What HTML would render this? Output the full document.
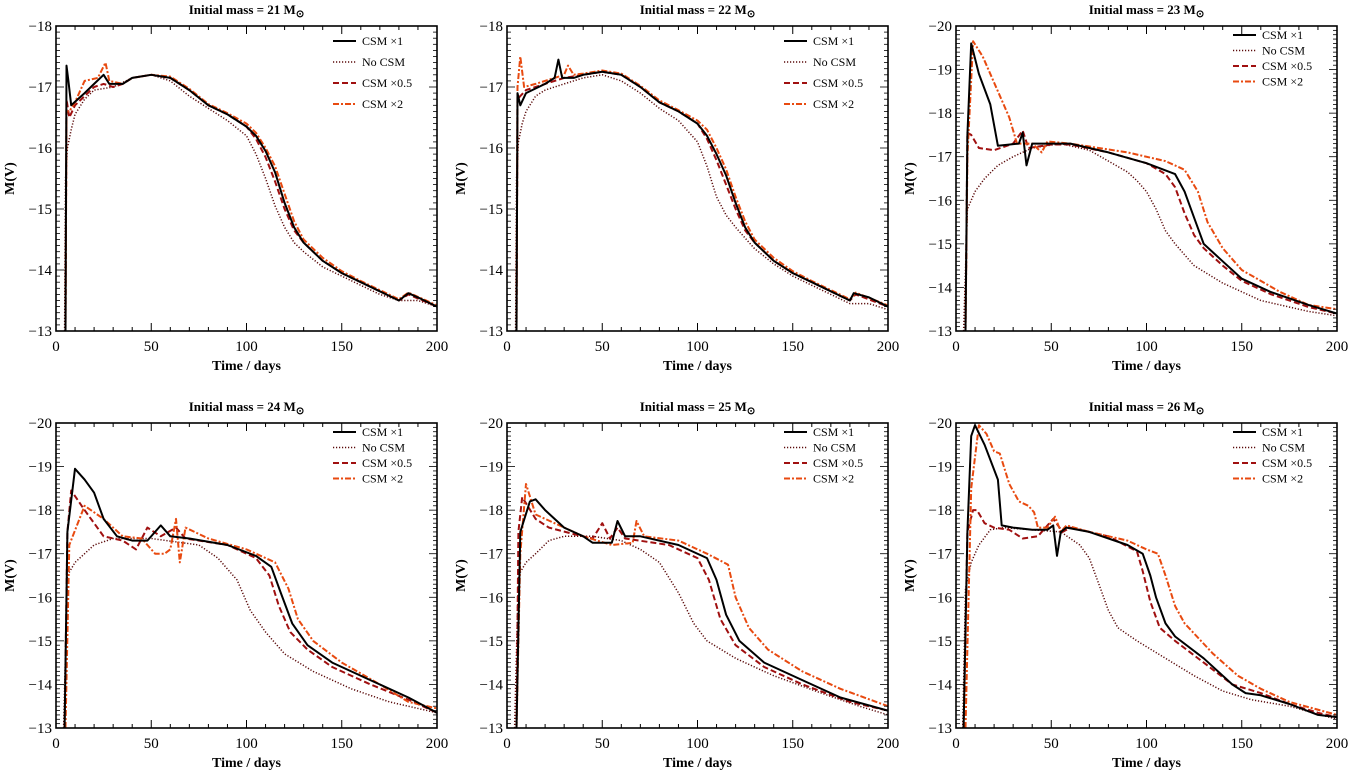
<!DOCTYPE html>
<html><head><meta charset="utf-8">
<style>
html,body{margin:0;padding:0;background:#fff;}
svg{display:block;font-family:"Liberation Serif",serif;}
</style></head>
<body>
<svg id="chart" width="1350" height="776" viewBox="0 0 1350 776" xmlns="http://www.w3.org/2000/svg"></svg>
<script>
// ---- data: [time(days), M(V)] per series per panel ----
const masses = [21,22,23,24,25,26];
const yMins = [-18,-18,-20,-20,-20,-20];
const xTicks = [0,50,100,150,200];
const seriesNames = ["CSM \u00d71","No CSM","CSM \u00d70.5","CSM \u00d72"];

const p21_csm1 = [[5,-13],[5.5,-17.35],[6.5,-17.1],[8,-16.7],[15,-16.9],[20,-17.05],[25,-17.2],[28,-17.05],[35,-17.05],[40,-17.15],[50,-17.2],[60,-17.15],[70,-16.95],[80,-16.7],[90,-16.55],[100,-16.35],[105,-16.2],[110,-15.95],[115,-15.6],[120,-15.1],[125,-14.7],[130,-14.45],[140,-14.15],[150,-13.95],[160,-13.8],[170,-13.65],[180,-13.5],[185,-13.62],[190,-13.55],[200,-13.4]];
const p21_nocsm = [[4.5,-13],[5,-15.5],[6,-16.0],[8,-16.3],[10,-16.55],[15,-16.8],[20,-16.95],[30,-17.0],[40,-17.15],[50,-17.2],[60,-17.1],[70,-16.85],[80,-16.65],[90,-16.45],[100,-16.2],[105,-15.9],[110,-15.5],[115,-15.05],[120,-14.7],[125,-14.45],[130,-14.3],[140,-14.05],[150,-13.9],[160,-13.75],[170,-13.6],[180,-13.5],[190,-13.5],[200,-13.4]];
const p21_csm05 = [[5,-13],[5.5,-16.8],[7,-16.5],[10,-16.7],[20,-17.0],[25,-17.05],[30,-17.0],[35,-17.05],[40,-17.15],[50,-17.2],[60,-17.15],[70,-16.95],[80,-16.7],[90,-16.55],[100,-16.35],[105,-16.15],[110,-15.85],[115,-15.45],[120,-15.0],[125,-14.65],[130,-14.45],[140,-14.15],[150,-13.95],[160,-13.8],[170,-13.65],[180,-13.5],[185,-13.6],[200,-13.4]];
const p21_csm2 = [[5,-13],[5.5,-16.6],[7,-16.6],[10,-16.75],[15,-17.1],[22,-17.15],[26,-17.4],[28,-17.1],[35,-17.05],[40,-17.15],[50,-17.2],[60,-17.17],[70,-16.97],[80,-16.72],[90,-16.57],[100,-16.4],[105,-16.25],[110,-16.0],[115,-15.7],[120,-15.25],[125,-14.8],[130,-14.5],[140,-14.2],[150,-13.98],[160,-13.82],[170,-13.67],[180,-13.52],[185,-13.63],[200,-13.42]];

const p22_csm1 = [[5,-13],[5.5,-16.9],[7,-16.7],[10,-16.9],[20,-17.05],[25,-17.15],[27,-17.45],[29,-17.15],[35,-17.15],[40,-17.2],[50,-17.25],[60,-17.2],[70,-17.0],[80,-16.75],[90,-16.6],[100,-16.4],[105,-16.2],[110,-15.9],[115,-15.55],[120,-15.1],[125,-14.7],[130,-14.45],[140,-14.15],[150,-13.95],[160,-13.8],[170,-13.65],[180,-13.5],[182,-13.62],[190,-13.55],[200,-13.4]];
const p22_nocsm = [[4.5,-13],[5,-15.5],[6,-16.1],[8,-16.4],[10,-16.6],[15,-16.85],[20,-16.95],[30,-17.05],[40,-17.15],[50,-17.2],[60,-17.1],[70,-16.9],[80,-16.65],[90,-16.45],[100,-16.1],[105,-15.7],[110,-15.2],[115,-14.9],[120,-14.7],[130,-14.35],[140,-14.1],[150,-13.9],[160,-13.75],[170,-13.6],[180,-13.45],[190,-13.45],[200,-13.35]];
const p22_csm05 = [[5,-13],[5.5,-16.8],[7,-16.85],[10,-16.95],[20,-17.05],[30,-17.15],[40,-17.2],[50,-17.25],[60,-17.2],[70,-17.0],[80,-16.75],[90,-16.6],[100,-16.4],[105,-16.15],[110,-15.8],[115,-15.4],[120,-15.0],[125,-14.65],[130,-14.45],[140,-14.15],[150,-13.95],[160,-13.8],[170,-13.65],[180,-13.5],[183,-13.6],[200,-13.4]];
const p22_csm2 = [[5,-13],[5.5,-17.0],[7,-17.5],[9,-17.0],[15,-17.05],[25,-17.15],[30,-17.2],[32,-17.35],[35,-17.2],[40,-17.22],[50,-17.27],[60,-17.22],[70,-17.02],[80,-16.78],[90,-16.62],[100,-16.45],[105,-16.3],[110,-16.0],[115,-15.65],[120,-15.2],[125,-14.8],[130,-14.5],[140,-14.2],[150,-13.98],[160,-13.82],[170,-13.67],[180,-13.52],[183,-13.63],[200,-13.42]];

const p23_csm1 = [[5,-13],[6,-17.5],[8,-19.6],[12,-18.9],[18,-18.2],[22,-17.25],[33,-17.3],[35,-17.55],[37,-16.8],[40,-17.3],[50,-17.3],[60,-17.3],[80,-17.1],[100,-16.85],[115,-16.6],[120,-16.2],[125,-15.6],[130,-15.0],[140,-14.6],[150,-14.2],[165,-13.9],[185,-13.6],[200,-13.4]];
const p23_nocsm = [[4,-13],[6,-15.8],[10,-16.2],[15,-16.5],[22,-16.8],[30,-17.0],[40,-17.2],[55,-17.3],[70,-17.15],[80,-16.9],[90,-16.65],[95,-16.45],[100,-16.2],[105,-15.8],[110,-15.3],[115,-15.0],[125,-14.5],[140,-14.1],[160,-13.7],[185,-13.45],[200,-13.35]];
const p23_csm05 = [[5,-13],[6,-17.55],[8,-17.5],[12,-17.2],[20,-17.15],[30,-17.3],[35,-17.6],[38,-17.2],[50,-17.28],[60,-17.28],[80,-17.1],[100,-16.85],[110,-16.6],[115,-16.3],[120,-15.7],[125,-15.2],[130,-14.9],[140,-14.5],[150,-14.15],[165,-13.85],[185,-13.55],[200,-13.4]];
const p23_csm2 = [[5,-13],[6,-17.0],[9,-19.65],[14,-19.3],[20,-18.7],[25,-18.2],[28,-17.9],[32,-17.3],[40,-17.3],[45,-17.1],[48,-17.35],[60,-17.3],[90,-17.1],[110,-16.9],[120,-16.7],[127,-16.2],[132,-15.5],[140,-14.9],[150,-14.4],[170,-13.9],[185,-13.6],[200,-13.5]];

const p24_csm1 = [[4.5,-13],[6,-17.5],[10,-18.95],[15,-18.7],[20,-18.4],[25,-17.8],[32,-17.4],[40,-17.3],[48,-17.3],[55,-17.65],[60,-17.4],[70,-17.35],[90,-17.2],[105,-16.95],[113,-16.7],[118,-16.1],[124,-15.4],[132,-14.9],[145,-14.5],[165,-14.1],[185,-13.7],[200,-13.35]];
const p24_nocsm = [[4,-13],[6,-16.5],[10,-16.8],[15,-17.0],[20,-17.2],[30,-17.35],[50,-17.35],[75,-17.2],[85,-16.9],[95,-16.4],[102,-15.7],[110,-15.2],[120,-14.7],[135,-14.3],[155,-13.9],[175,-13.6],[200,-13.35]];
const p24_csm05 = [[4.5,-13],[6,-17.5],[8,-18.45],[15,-18.0],[25,-17.4],[35,-17.3],[42,-17.1],[48,-17.6],[55,-17.4],[63,-17.6],[68,-17.35],[90,-17.2],[105,-16.9],[112,-16.5],[117,-15.8],[123,-15.2],[132,-14.8],[145,-14.4],[165,-14.0],[185,-13.65],[200,-13.35]];
const p24_csm2 = [[5,-13],[7,-17.2],[15,-18.1],[25,-17.8],[35,-17.4],[45,-17.35],[52,-17.0],[57,-17.0],[60,-17.1],[63,-17.8],[65,-16.8],[68,-17.6],[80,-17.35],[100,-17.1],[115,-16.8],[122,-16.2],[127,-15.5],[135,-15.0],[150,-14.5],[170,-14.0],[185,-13.6],[200,-13.45]];

const p25_csm1 = [[5,-13],[7,-17.5],[12,-18.2],[15,-18.25],[20,-18.0],[30,-17.6],[40,-17.4],[45,-17.25],[55,-17.25],[58,-17.75],[62,-17.4],[70,-17.4],[90,-17.2],[105,-16.9],[110,-16.4],[115,-15.6],[122,-15.0],[135,-14.5],[155,-14.1],[175,-13.7],[200,-13.4]];
const p25_nocsm = [[4,-13],[6,-16.5],[10,-16.8],[15,-17.0],[22,-17.3],[30,-17.4],[45,-17.4],[60,-17.3],[70,-17.1],[80,-16.8],[90,-16.1],[98,-15.4],[105,-15.0],[120,-14.6],[140,-14.2],[165,-13.8],[185,-13.5],[200,-13.3]];
const p25_csm05 = [[5,-13],[6,-17.5],[8,-18.3],[15,-17.8],[22,-17.6],[35,-17.45],[45,-17.35],[50,-17.7],[54,-17.35],[58,-17.6],[62,-17.35],[85,-17.2],[100,-16.9],[106,-16.4],[112,-15.5],[120,-14.9],[135,-14.4],[155,-14.0],[180,-13.6],[200,-13.4]];
const p25_csm2 = [[5,-13],[7,-17.0],[10,-18.6],[15,-17.9],[25,-17.7],[40,-17.4],[55,-17.2],[66,-17.25],[68,-17.75],[72,-17.4],[90,-17.3],[105,-17.0],[116,-16.75],[120,-16.0],[127,-15.3],[137,-14.8],[155,-14.3],[175,-13.9],[200,-13.5]];

const p26_csm1 = [[4,-13],[6,-17.5],[8,-19.7],[10,-19.95],[15,-19.5],[22,-18.7],[24,-17.65],[30,-17.6],[40,-17.55],[48,-17.55],[51,-17.65],[53,-16.95],[55,-17.5],[58,-17.6],[70,-17.5],[90,-17.2],[98,-17.0],[102,-16.5],[105,-16.0],[110,-15.4],[115,-15.1],[130,-14.6],[145,-14.0],[152,-13.8],[160,-13.75],[175,-13.55],[190,-13.3],[200,-13.25]];
const p26_nocsm = [[3.5,-13],[5,-16.2],[8,-16.8],[12,-17.2],[18,-17.55],[25,-17.6],[40,-17.55],[55,-17.5],[65,-17.2],[70,-16.9],[75,-16.3],[80,-15.7],[85,-15.3],[95,-15.0],[110,-14.6],[125,-14.2],[140,-13.85],[155,-13.65],[175,-13.5],[200,-13.2]];
const p26_csm05 = [[4,-13],[6,-17.5],[9,-18.0],[11,-18.0],[15,-17.7],[20,-17.6],[28,-17.55],[35,-17.35],[43,-17.4],[47,-17.6],[51,-17.8],[56,-17.5],[60,-17.6],[80,-17.4],[95,-17.05],[98,-16.6],[102,-15.9],[107,-15.3],[115,-15.0],[130,-14.5],[145,-14.0],[160,-13.8],[175,-13.55],[190,-13.35],[200,-13.25]];
const p26_csm2 = [[5,-13],[8,-18.5],[12,-19.95],[16,-19.75],[20,-19.35],[23,-19.3],[28,-18.6],[33,-18.2],[38,-18.1],[41,-17.95],[43,-17.6],[48,-17.6],[52,-17.85],[55,-17.5],[58,-17.65],[70,-17.5],[90,-17.3],[100,-17.1],[106,-17.0],[110,-16.5],[115,-15.8],[120,-15.4],[135,-14.7],[148,-14.2],[160,-13.9],[175,-13.6],[200,-13.3]];

const panelSeries = [
  [p21_csm1,p21_nocsm,p21_csm05,p21_csm2],
  [p22_csm1,p22_nocsm,p22_csm05,p22_csm2],
  [p23_csm1,p23_nocsm,p23_csm05,p23_csm2],
  [p24_csm1,p24_nocsm,p24_csm05,p24_csm2],
  [p25_csm1,p25_nocsm,p25_csm05,p25_csm2],
  [p26_csm1,p26_nocsm,p26_csm05,p26_csm2]
];

// ---- styles / layout ----
const styles = [
  {c:"#000",w:2,d:""},
  {c:"#5a0a0a",w:1.5,d:"1.2,1.8"},
  {c:"#a01010",w:2,d:"6,3"},
  {c:"#e84a10",w:2,d:"6,2,2,2"}
];
const colX = [56,507,956], rowY = [26,423];
const PW = 381, PH = 305;
const NS = "http://www.w3.org/2000/svg";
const svg = document.getElementById('chart');
function mk(tag, attrs, parent){
  const e = document.createElementNS(NS, tag);
  for (const k in attrs) e.setAttribute(k, attrs[k]);
  (parent||svg).appendChild(e);
  return e;
}

masses.forEach((m, i) => {
  const x0 = colX[i%3], y0 = rowY[Math.floor(i/3)];
  const yMin = yMins[i];
  const sx = t => x0 + t/200*PW;
  const sy = v => y0 + (v - yMin)/(-13 - yMin)*PH;
  const g = mk('g', {});
  
  

  // title
  const title = mk('text', {x: x0+PW/2, y: y0-12, 'text-anchor':'middle', 'font-size':13, 'font-weight':'bold'}, g);
  
  
  title.textContent = 'Initial mass = ' + m + ' M';
  const sub = mk('tspan', {'font-size':10, dy:3}, title);
  sub.textContent = '\u2299';

  // clip
  const cid = 'clip'+i;
  const cp = mk('clipPath', {id:cid}, g);
  mk('rect', {x:x0, y:y0, width:PW, height:PH}, cp);

  // series
  const sg = mk('g', {'clip-path':'url(#'+cid+')'}, g);
  [1,2,3,0].forEach(s => {
    const data = panelSeries[i][s];
    const st = styles[s];
    const pts = data.map(p => sx(p[0]).toFixed(1)+','+sy(p[1]).toFixed(1)).join(' ');
    const pl = mk('polyline', {points:pts, fill:'none', stroke:st.c, 'stroke-width':st.w, 'stroke-dasharray':st.d, 'stroke-linejoin':'round'}, sg);
    
    
  });

  // frame
  mk('rect', {x:x0, y:y0, width:PW, height:PH, fill:'none', stroke:'#000', 'stroke-width':1.6}, g);

  // x ticks
  for (let t=0; t<=200; t+=10) {
    const L = (t%50===0) ? 8 : 4;
    mk('line', {x1:sx(t), x2:sx(t), y1:y0+PH, y2:y0+PH-L, stroke:'#000', 'stroke-width':1}, g);
    mk('line', {x1:sx(t), x2:sx(t), y1:y0, y2:y0+L, stroke:'#000', 'stroke-width':1}, g);
  }
  xTicks.forEach(t => {
    const tl = mk('text', {x:sx(t), y:y0+PH+20, 'text-anchor':'middle', 'font-size':15}, g);
    
    
    tl.textContent = t;
  });
  const xt = mk('text', {x:x0+PW/2, y:y0+PH+39, 'text-anchor':'middle', 'font-size':14, 'font-weight':'bold'}, g);
  
  
  xt.textContent = 'Time / days';

  // y ticks
  for (let k = Math.round(yMin*10); k <= -130; k++) {
    const v = k/10;
    const L = (k%10===0) ? 8 : 4;
    mk('line', {x1:x0, x2:x0+L, y1:sy(v), y2:sy(v), stroke:'#000', 'stroke-width':0.8}, g);
    mk('line', {x1:x0+PW, x2:x0+PW-L, y1:sy(v), y2:sy(v), stroke:'#000', 'stroke-width':0.8}, g);
  }
  for (let v = yMin; v <= -13; v++) {
    const yl = mk('text', {x:x0-4, y:sy(v)+5, 'text-anchor':'end', 'font-size':15}, g);
    
    
    yl.textContent = '\u2212' + Math.abs(v);
  }
  const yt = mk('text', {x:0, y:0, 'text-anchor':'middle', 'font-size':14, 'font-weight':'bold', transform:'translate('+(x0-42)+','+(y0+PH/2)+') rotate(-90)'}, g);
  
  
  yt.textContent = 'M(V)';

  // legend
  const gap = (i<2) ? 21 : 15.5;
  const ly0 = y0 + ((i<2) ? 15 : 9);
  seriesNames.forEach((nm, s) => {
    const st = styles[s];
    const ly = ly0 + s*gap;
    const le = mk('g', {}, g);
    
    
    mk('line', {x1:x0+277, x2:x0+300, y1:ly, y2:ly, stroke:st.c, 'stroke-width':st.w, 'stroke-dasharray':st.d}, le);
    const lt = mk('text', {x:x0+306, y:ly+4, 'font-size':12}, le);
    lt.textContent = nm;
  });
});
</script>
</body></html>
